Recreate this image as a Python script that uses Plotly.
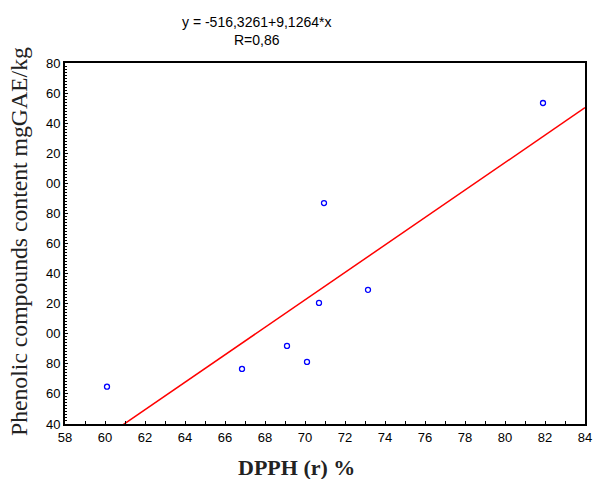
import numpy as np
import plotly.graph_objects as go

# Data
dpph = [60.1, 66.85, 69.1, 70.1, 70.7, 70.95, 73.15, 81.9]
phenolic = [64.8, 76.6, 91.9, 81.3, 120.5, 186.9, 129.2, 253.4]

intercept = -516.3261
slope = 9.1264

y_tickvals = [40, 60, 80, 100, 120, 140, 160, 180, 200, 220, 240, 260, 280]
y_ticktext = ["40", "60", "80", "00", "20", "40", "60", "80", "00", "20", "40", "60", "80"]
x_tickvals = [58, 60, 62, 64, 66, 68, 70, 72, 74, 76, 78, 80, 82, 84]

x_range = [58, 84]
y_range = [40, 280]

line_x = np.array(x_range, dtype=float)
line_y = intercept + slope * line_x

ML, MR, MT, MB = 65, 8, 63, 55
W, H = 593, 479

fig = go.Figure()
fig.add_trace(go.Scatter(
    x=line_x, y=line_y, mode="lines",
    line=dict(color="#ff0000", width=1.5),
    hoverinfo="skip", showlegend=False,
))
fig.add_trace(go.Scatter(
    x=dpph, y=phenolic, mode="markers",
    marker=dict(symbol="circle-open", size=5, color="#0000ff", line=dict(width=1.3, color="#0000ff")),
    showlegend=False,
))

tick_font = dict(family="Liberation Sans, Arial, sans-serif", size=13, color="#000")


def px(x):
    return (x - ML) / (W - ML - MR)


def py(y):
    return 1 - (y - MT) / (H - MT - MB)


fig.update_layout(
    width=W, height=H,
    margin=dict(l=ML, r=MR, t=MT, b=MB, autoexpand=False),
    paper_bgcolor="white", plot_bgcolor="white",
    xaxis=dict(
        range=x_range, tickvals=x_tickvals, ticktext=[str(v) for v in x_tickvals],
        ticks="inside", ticklen=3, tickwidth=1, tickcolor="#000",
        minor=dict(ticks="inside", dtick=1, ticklen=3, tickcolor="#000"),
        showgrid=False, zeroline=False, automargin=False,
        showline=True, linecolor="#000", linewidth=2, mirror=True,
        tickfont=tick_font,
    ),
    yaxis=dict(
        range=y_range, tickvals=y_tickvals, ticktext=y_ticktext,
        ticks="inside", ticklen=3, tickwidth=1, tickcolor="#000",
        minor=dict(ticks="inside", dtick=2, ticklen=2, tickcolor="#000"),
        showgrid=False, zeroline=False, automargin=False,
        showline=True, linecolor="#000", linewidth=2, mirror=True,
        tickfont=tick_font,
    ),
    annotations=[
        dict(text="y = -516,3261+9,1264*x<br>R=0,86", x=px(256), y=py(31), xref="paper", yref="paper",
             xanchor="center", yanchor="middle",
             showarrow=False, font=dict(family="Liberation Sans, Arial, sans-serif", size=14, color="#000"),
             align="center"),
        dict(text="<b>DPPH (r) %</b>", x=px(296), y=py(467), xref="paper", yref="paper",
             xanchor="center", yanchor="middle",
             showarrow=False, font=dict(family="Liberation Serif, Times New Roman, serif", size=22, color="#222")),
        dict(text="Phenolic compounds content mgGAE/kg", x=px(19), y=py(242), xref="paper", yref="paper",
             xanchor="center", yanchor="middle",
             showarrow=False, textangle=-90,
             font=dict(family="Liberation Serif, Times New Roman, serif", size=23.7, color="#222")),
    ],
)

fig.write_html(
    "out.html",
    config={"displayModeBar": False},
    post_script="document.body.style.margin='0';document.body.style.overflow='hidden';",
)
